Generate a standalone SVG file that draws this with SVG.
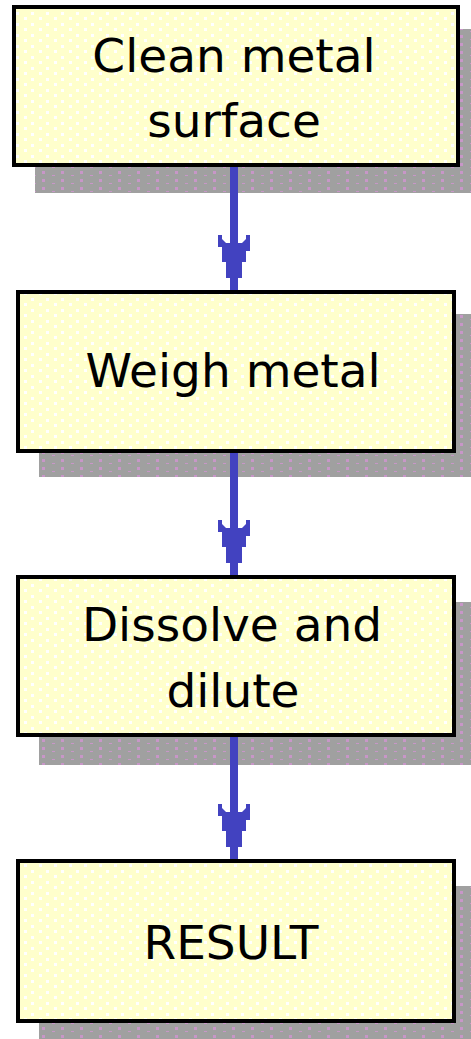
<svg xmlns="http://www.w3.org/2000/svg" xmlns:xlink="http://www.w3.org/1999/xlink" width="471" height="1039" viewBox="0 0 471 1039">
<style>
.shadow{fill:url(#shadowDots)}
.box{fill:url(#boxDots);stroke:#000;stroke-width:4}
.label{font-family:"DejaVu Sans",sans-serif;font-size:47px;fill:#000;text-anchor:middle}
.conn{stroke:#4242c0;stroke-width:8;fill:none}
.head{fill:#4242c0}
</style>
<defs>
<pattern id="boxDots" width="15" height="11" patternUnits="userSpaceOnUse">
<rect width="15" height="11" fill="#ffffcc"/>
<rect x="1" y="1" width="3" height="3" fill="#ffffff"/>
<rect x="9" y="6" width="3" height="3" fill="#ffffff"/>
</pattern>
<pattern id="shadowDots" width="19" height="8" patternUnits="userSpaceOnUse">
<rect width="19" height="8" fill="#a0a0a0"/>
<rect x="4" y="3" width="3" height="3" fill="#c896c8"/>
<rect x="14" y="7" width="3" height="1" fill="#c896c8"/>
</pattern>
<path id="arrowhead" d="M -16 -55 L -12 -55 L -12 -51 L -8 -47 L 8 -47 L 12 -51 L 12 -55 L 16 -55 L 16 -39 L 12 -39 L 12 -28 L 8 -28 L 8 -12 L 4 -12 L 4 0 L -4 0 L -4 -12 L -8 -12 L -8 -28 L -12 -28 L -12 -43 L -16 -43 Z"/>
</defs>
<g id="shadows">
<rect class="shadow" x="35" y="29" width="448" height="164"/>
<rect class="shadow" x="39" y="314" width="440" height="163"/>
<rect class="shadow" x="39" y="602" width="440" height="163"/>
<rect class="shadow" x="39" y="886" width="440" height="164"/>
</g>
<g id="connectors">
<line class="conn" x1="234" y1="165" x2="234" y2="290"/>
<use href="#arrowhead" class="head" x="234" y="290"/>
<line class="conn" x1="234" y1="451" x2="234" y2="575"/>
<use href="#arrowhead" class="head" x="234" y="575"/>
<line class="conn" x1="234" y1="735" x2="234" y2="859"/>
<use href="#arrowhead" class="head" x="234" y="859"/>
</g>
<g id="node-clean">
<rect class="box" x="14" y="7" width="444" height="158"/>
<text class="label" x="234" y="72">Clean metal</text>
<text class="label" x="234" y="137">surface</text>
</g>
<g id="node-weigh">
<rect class="box" x="18" y="292" width="436" height="159"/>
<text class="label" x="233" y="387">Weigh metal</text>
</g>
<g id="node-dissolve">
<rect class="box" x="18" y="577" width="436" height="158"/>
<text class="label" x="232" y="641">Dissolve and</text>
<text class="label" x="233" y="707">dilute</text>
</g>
<g id="node-result">
<rect class="box" x="18" y="861" width="436" height="160"/>
<text class="label" x="231" y="959">RESULT</text>
</g>
</svg>
